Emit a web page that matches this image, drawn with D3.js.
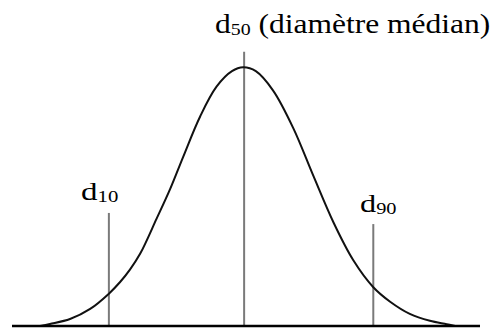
<!DOCTYPE html>
<html>
<head lang="fr">
  <meta charset="UTF-8">
  <title>Distribution granulométrique</title>
  <script src="https://cdn.jsdelivr.net/npm/d3@7"></script>
</head>
<body style="margin: 0; background: #fff;">

<svg id="chart" width="494" height="329" style="font-family: 'Liberation Serif', 'Times New Roman', serif;"></svg>

<script>
  // Diameter (arbitrary units) and relative frequency
  var diameters = [6, 8.1, 12.4, 16.7, 20.7, 23.1, 25.2, 27.4, 30.9, 33.8, 36.6, 40.2, 43.7, 47, 49.4,
                   52.1, 55.8, 60.1, 64.4, 68.7, 72.9, 77.2, 80.8, 85, 89.3, 92.9, 94.7];
  var frequency = [0, 0.008, 0.027, 0.066, 0.125, 0.17, 0.218, 0.28, 0.415, 0.53, 0.655, 0.81, 0.925, 0.985, 1,
                   0.985, 0.91, 0.765, 0.58, 0.40, 0.255, 0.15, 0.094, 0.047, 0.020, 0.007, 0];

  // Characteristic diameters: position, marker top, label
  var markerNames = ['10', '50', '90'];
  var markerX     = [20.7, 49.6, 77.2];
  var markerTop   = [0.437, 1.06, 0.394];
  var markerNotes = ['', ' (diamètre médian)', ''];

  var chart = d3.select('#chart');

  var x = d3.scaleLinear().domain([0, 100]).range([12, 480]);
  var y = d3.scaleLinear().domain([0, 1]).range([326, 67.3]);

  var points = diameters.map(function (d, i) { return [d, frequency[i]]; });

  var line = d3.line()
    .x(function (d) { return x(d[0]); })
    .y(function (d) { return y(d[1]); })
    .curve(d3.curveCatmullRom.alpha(0.5));

  // vertical markers
  chart.selectAll('line.marker')
    .data(markerX)
    .enter()
      .append('line')
      .attr('class', 'marker')
      .attr('x1', function (d) { return x(d); })
      .attr('x2', function (d) { return x(d); })
      .attr('y1', function (d, i) { return y(markerTop[i]); })
      .attr('y2', y(0))
      .attr('stroke', '#7a7a7a')
      .attr('stroke-width', 2);

  chart.append('path')
    .datum(points)
    .attr('d', line)
    .attr('fill', 'none')
    .attr('stroke', '#111')
    .attr('stroke-width', 2);

  // baseline
  chart.append('line')
    .attr('x1', x(0)).attr('x2', x(100))
    .attr('y1', y(0)).attr('y2', y(0))
    .attr('stroke', '#000')
    .attr('stroke-width', 2.5);

  // labels: [left, right, baseline, font size] -- the source lettering is a bit stretched sideways
  var labelBox = [[81, 118.3, 200, 25.5], [215, 490.5, 33.3, 28], [360, 396.7, 211.7, 25]];

  var labels = chart.selectAll('text.label')
    .data(markerNames)
    .enter()
      .append('text')
      .attr('class', 'label')
      .attr('x', function (d, i) { return labelBox[i][0]; })
      .attr('y', function (d, i) { return labelBox[i][2]; })
      .attr('fill', '#000')
      .style('font-size', function (d, i) { return labelBox[i][3] + 'px'; });

  labels.append('tspan').text('d');
  labels.append('tspan')
    .attr('dy', 2)
    .style('font-size', function (d, i) { return (labelBox[i][3] * 0.63) + 'px'; })
    .text(function (d) { return d; });
  labels.append('tspan')
    .attr('dy', -2)
    .text(function (d, i) { return markerNotes[i]; });

  labels.each(function (d, i) {
    var b = this.getBBox();
    var x0 = labelBox[i][0];
    var sx = (labelBox[i][1] - x0) / b.width;
    d3.select(this).attr('transform',
      'translate(' + x0 + ',0) scale(' + sx + ',1) translate(' + (-b.x) + ',0)');
  });
</script>
</body>
</html>
